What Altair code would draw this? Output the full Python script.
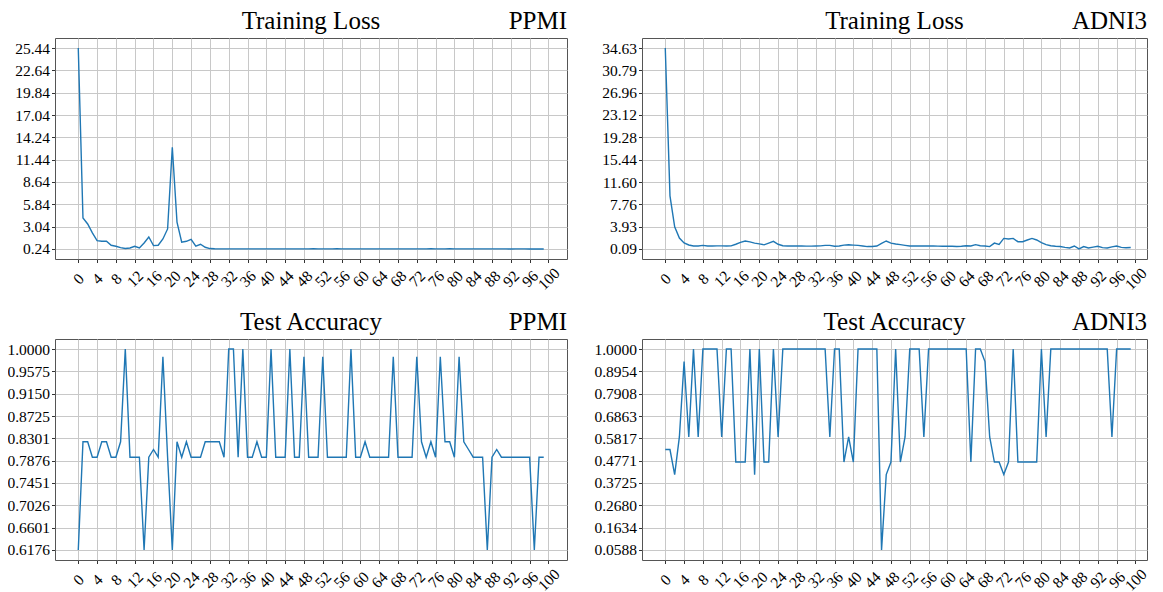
import altair as alt
import pandas as pd

epochs = list(range(100))

ppmi_loss = [
    25.44, 4.13, 3.37, 2.25, 1.29, 1.20, 1.20, 0.70, 0.58, 0.41,
    0.29, 0.36, 0.58, 0.36, 0.99, 1.74, 0.66, 0.70, 1.49, 2.75,
    12.99, 3.59, 1.08, 1.20, 1.45, 0.58, 0.83, 0.45, 0.29, 0.26,
    0.25, 0.25, 0.25, 0.25, 0.25, 0.25, 0.25, 0.25, 0.25, 0.25,
    0.25, 0.25, 0.25, 0.25, 0.25, 0.25, 0.25, 0.25, 0.25, 0.25,
    0.26, 0.25, 0.25, 0.25, 0.25, 0.26, 0.25, 0.25, 0.25, 0.25,
    0.25, 0.25, 0.25, 0.25, 0.25, 0.25, 0.25, 0.25, 0.25, 0.25,
    0.25, 0.25, 0.25, 0.25, 0.25, 0.26, 0.25, 0.25, 0.25, 0.26,
    0.25, 0.25, 0.25, 0.25, 0.25, 0.25, 0.25, 0.25, 0.25, 0.25,
    0.25, 0.25, 0.24, 0.25, 0.25, 0.25, 0.24, 0.24, 0.24, 0.24,
]

adni3_loss = [
    34.63, 9.22, 3.91, 1.97, 1.12, 0.77, 0.60, 0.60, 0.70, 0.60,
    0.60, 0.62, 0.62, 0.60, 0.62, 0.90, 1.22, 1.46, 1.30, 1.10,
    0.97, 0.80, 1.10, 1.39, 0.90, 0.65, 0.60, 0.60, 0.62, 0.60,
    0.58, 0.58, 0.60, 0.62, 0.70, 0.70, 0.55, 0.60, 0.75, 0.80,
    0.75, 0.70, 0.60, 0.50, 0.52, 0.60, 1.05, 1.46, 1.10, 0.94,
    0.83, 0.71, 0.60, 0.60, 0.60, 0.60, 0.62, 0.60, 0.58, 0.55,
    0.55, 0.55, 0.52, 0.55, 0.65, 0.60, 0.83, 0.65, 0.60, 0.50,
    1.10, 0.88, 1.90, 1.80, 1.90, 1.34, 1.34, 1.63, 1.90, 1.63,
    1.17, 0.83, 0.65, 0.55, 0.50, 0.37, 0.26, 0.60, 0.09, 0.50,
    0.26, 0.40, 0.55, 0.32, 0.26, 0.45, 0.60, 0.37, 0.30, 0.35,
]

ppmi_acc = [
    0.6176, 0.8235, 0.8235, 0.7941, 0.7941, 0.8235, 0.8235, 0.7941, 0.7941, 0.8235,
    1.0000, 0.7941, 0.7941, 0.7941, 0.6176, 0.7941, 0.8088, 0.7941, 0.9853, 0.7941,
    0.6176, 0.8235, 0.7941, 0.8235, 0.7941, 0.7941, 0.7941, 0.8235, 0.8235, 0.8235,
    0.8235, 0.7941, 1.0000, 1.0000, 0.7941, 1.0000, 0.7941, 0.7941, 0.8235, 0.7941,
    0.7941, 1.0000, 0.7941, 0.7941, 0.7941, 1.0000, 0.7941, 0.7941, 0.9853, 0.7941,
    0.7941, 0.7941, 0.9853, 0.7941, 0.7941, 0.7941, 0.7941, 0.7941, 1.0000, 0.7941,
    0.7941, 0.8235, 0.7941, 0.7941, 0.7941, 0.7941, 0.7941, 0.9853, 0.7941, 0.7941,
    0.7941, 0.7941, 0.9853, 0.8235, 0.7941, 0.8235, 0.7941, 0.9853, 0.8235, 0.8235,
    0.7941, 0.9853, 0.8235, 0.8088, 0.7941, 0.7941, 0.7941, 0.6176, 0.7941, 0.8088,
    0.7941, 0.7941, 0.7941, 0.7941, 0.7941, 0.7941, 0.7941, 0.6176, 0.7941, 0.7941,
]

adni3_acc = [
    0.5294, 0.5294, 0.4118, 0.5882, 0.9412, 0.5882, 1.0000, 0.5882, 1.0000, 1.0000,
    1.0000, 1.0000, 0.5882, 1.0000, 1.0000, 0.4706, 0.4706, 0.4706, 1.0000, 0.4118,
    1.0000, 0.4706, 0.4706, 1.0000, 0.5882, 1.0000, 1.0000, 1.0000, 1.0000, 1.0000,
    1.0000, 1.0000, 1.0000, 1.0000, 1.0000, 0.5882, 1.0000, 1.0000, 0.4706, 0.5882,
    0.4706, 1.0000, 1.0000, 1.0000, 1.0000, 1.0000, 0.0588, 0.4118, 0.4706, 1.0000,
    0.4706, 0.5882, 1.0000, 1.0000, 1.0000, 0.5882, 1.0000, 1.0000, 1.0000, 1.0000,
    1.0000, 1.0000, 1.0000, 1.0000, 1.0000, 0.4706, 1.0000, 1.0000, 0.9412, 0.5882,
    0.4706, 0.4706, 0.4118, 0.4706, 1.0000, 0.4706, 0.4706, 0.4706, 0.4706, 0.4706,
    1.0000, 0.5882, 1.0000, 1.0000, 1.0000, 1.0000, 1.0000, 1.0000, 1.0000, 1.0000,
    1.0000, 1.0000, 1.0000, 1.0000, 1.0000, 0.5882, 1.0000, 1.0000, 1.0000, 1.0000,
]

x_ticks = list(range(0, 101, 4))
ppmi_loss_ticks = [0.24, 3.04, 5.84, 8.64, 11.44, 14.24, 17.04, 19.84, 22.64, 25.44]
adni3_loss_ticks = [0.09, 3.93, 7.76, 11.60, 15.44, 19.28, 23.12, 26.96, 30.79, 34.63]
ppmi_acc_ticks = [0.6176, 0.6601, 0.7026, 0.7451, 0.7876, 0.8301, 0.8725, 0.9150, 0.9575, 1.0000]
adni3_acc_ticks = [0.0588, 0.1634, 0.2680, 0.3725, 0.4771, 0.5817, 0.6863, 0.7908, 0.8954, 1.0000]

H = 221
FONT = "Liberation Serif"


def panel(values, yticks, fmt, title, dataset, width, x_right_pad):
    df = pd.DataFrame({"epoch": epochs, "value": values})
    lo, hi = min(values), max(values)
    ypad = (hi - lo) * 0.05
    xlo, xhi = min(epochs), max(epochs)
    xpad = (xhi - xlo) * 0.05
    line = alt.Chart(df).mark_line(color="#1f77b4", strokeWidth=1.4).encode(
        x=alt.X(
            "epoch:Q",
            scale=alt.Scale(domain=[xlo - xpad, xhi + x_right_pad], nice=False, zero=False),
            axis=alt.Axis(
                values=x_ticks, title=None, labelAngle=-45, labelAlign="center",
                labelBaseline="middle", labelPadding=16, labelOverlap=False,
                labelFlush=False,
            ),
        ),
        y=alt.Y(
            "value:Q",
            scale=alt.Scale(domain=[lo - ypad, hi + ypad], nice=False, zero=False),
            axis=alt.Axis(
                values=yticks, format=fmt, title=None, labelPadding=2,
                labelOverlap=False, labelFlush=False,
            ),
        ),
    )
    t_main = alt.Chart(pd.DataFrame({"t": [title]})).mark_text(
        font=FONT, fontSize=25, align="center", baseline="alphabetic", color="black"
    ).encode(text="t:N", x=alt.value(width / 2), y=alt.value(-9))
    t_side = alt.Chart(pd.DataFrame({"t": [dataset]})).mark_text(
        font=FONT, fontSize=25, align="right", baseline="alphabetic", color="black"
    ).encode(text="t:N", x=alt.value(width), y=alt.value(-9))
    return alt.layer(line, t_main, t_side).properties(width=width, height=H)


charts = [
    panel(ppmi_loss, ppmi_loss_ticks, ".2f", "Training Loss", "PPMI", 512, 4.95),
    panel(adni3_loss, adni3_loss_ticks, ".2f", "Training Loss", "ADNI3", 505, 3.46),
    panel(ppmi_acc, ppmi_acc_ticks, ".4f", "Test Accuracy", "PPMI", 512, 4.95),
    panel(adni3_acc, adni3_acc_ticks, ".4f", "Test Accuracy", "ADNI3", 505, 3.46),
]

chart = alt.concat(
    *charts, columns=2, spacing={"row": 80, "column": 75}, bounds="flush"
).properties(
    padding={"left": -2, "top": 0, "right": 0, "bottom": 0},
    background="white",
).configure_view(
    stroke="#555555", strokeWidth=1
).configure_axis(
    domain=False,
    grid=True,
    gridColor="#c8c8c8",
    gridWidth=1,
    ticks=True,
    tickColor="#333333",
    tickSize=3.5,
    tickWidth=1,
    labelFont=FONT,
    labelFontSize=15.5,
    labelColor="black",
)

chart.save("out.html", embed_options={"renderer": "svg", "actions": False})
